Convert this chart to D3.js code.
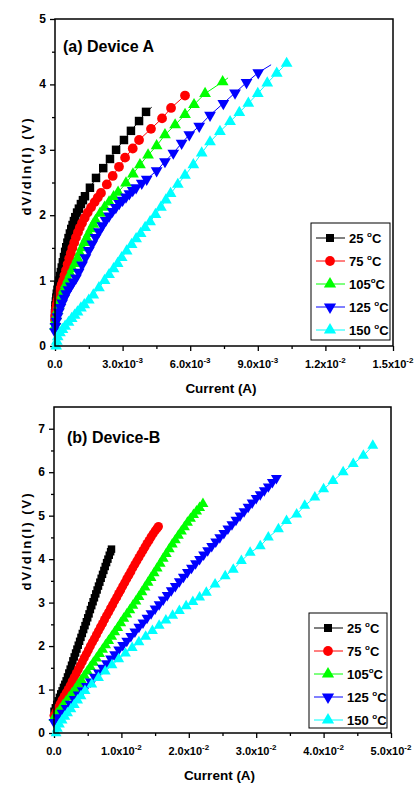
<!DOCTYPE html>
<html>
<head>
<meta charset="utf-8">
<script src="https://cdn.jsdelivr.net/npm/d3@7/dist/d3.min.js"></script>
<style>
body { margin: 0; background: #fff; }
text { font-family: "Liberation Sans", Arial, sans-serif; font-weight: bold; fill: #000; }
</style>
</head>
<body>
<svg width="416" height="787"></svg>
<script>
var svg = d3.select('svg');

// current in mA, dV/dln(I) in V
var tempLabels = ['25 ', '75 ', '105', '125 ', '150 '];
var colors = ['#000000', '#ff0000', '#00ff00', '#0000ff', '#00ffff'];
var symbols = [d3.symbolSquare, d3.symbolCircle, d3.symbolTriangle, 'down', d3.symbolTriangle];

// (a) Device A
var a25 = [[0,0.5],[0.01,0.56],[0.02,0.62],[0.04,0.68],[0.06,0.74],[0.08,0.8],[0.11,0.86],[0.14,0.93],[0.18,1.0],[0.22,1.07],[0.26,1.13],[0.3,1.2],[0.35,1.28],[0.4,1.36],[0.45,1.44],[0.5,1.51],[0.55,1.58],[0.6,1.65],[0.66,1.72],[0.72,1.79],[0.78,1.85],[0.84,1.91],[0.9,1.97],[0.98,2.04],[1.06,2.1],[1.15,2.17],[1.24,2.23],[1.33,2.29],[1.55,2.42],[1.82,2.57],[2.14,2.72],[2.44,2.86],[2.71,3.0],[3.06,3.15],[3.37,3.29],[3.73,3.44],[4.04,3.58]];
var a75 = [[0,0.4],[0.01,0.46],[0.03,0.52],[0.05,0.58],[0.08,0.64],[0.11,0.7],[0.15,0.76],[0.19,0.82],[0.24,0.88],[0.3,0.94],[0.36,1.0],[0.42,1.08],[0.49,1.16],[0.56,1.25],[0.63,1.34],[0.7,1.42],[0.77,1.5],[0.85,1.58],[0.93,1.66],[1.02,1.74],[1.1,1.81],[1.2,1.88],[1.32,1.96],[1.45,2.04],[1.6,2.12],[1.76,2.2],[1.9,2.27],[2.04,2.34],[2.3,2.47],[2.56,2.6],[2.84,2.74],[3.11,2.88],[3.45,3.02],[3.73,3.15],[4.26,3.32],[4.75,3.48],[5.15,3.64],[5.77,3.83]];
var a105 = [[0,0.3],[0.02,0.38],[0.06,0.46],[0.11,0.54],[0.17,0.62],[0.24,0.7],[0.31,0.78],[0.39,0.86],[0.48,0.94],[0.58,1.02],[0.68,1.1],[0.78,1.18],[0.89,1.26],[1.0,1.34],[1.1,1.42],[1.2,1.5],[1.3,1.58],[1.4,1.65],[1.5,1.72],[1.6,1.79],[1.7,1.86],[1.8,1.92],[2.0,2.03],[2.2,2.12],[2.4,2.2],[2.6,2.28],[2.8,2.35],[3.15,2.49],[3.46,2.63],[3.77,2.77],[4.13,2.92],[4.51,3.06],[4.88,3.23],[5.33,3.38],[5.77,3.54],[6.17,3.69],[6.66,3.86],[7.44,4.04]];
var a125 = [[0,0.22],[0.02,0.3],[0.06,0.38],[0.11,0.45],[0.17,0.52],[0.24,0.59],[0.32,0.66],[0.41,0.73],[0.5,0.8],[0.6,0.86],[0.7,0.92],[0.81,0.98],[0.93,1.04],[1.05,1.13],[1.2,1.24],[1.35,1.35],[1.5,1.46],[1.65,1.56],[1.8,1.66],[1.95,1.75],[2.1,1.84],[2.25,1.92],[2.4,1.99],[2.55,2.06],[2.7,2.12],[2.85,2.18],[3.0,2.23],[3.15,2.28],[3.3,2.33],[3.45,2.38],[3.6,2.42],[3.85,2.49],[4.07,2.55],[4.51,2.68],[4.88,2.82],[5.25,2.95],[5.62,3.1],[5.96,3.23],[6.4,3.36],[6.88,3.53],[7.47,3.71],[7.99,3.87],[8.5,4.03],[9.02,4.18]];
var a150 = [[0.05,0.0],[0.08,0.07],[0.12,0.14],[0.22,0.2],[0.33,0.25],[0.45,0.3],[0.6,0.36],[0.74,0.42],[0.87,0.47],[1.0,0.52],[1.15,0.58],[1.3,0.63],[1.5,0.7],[1.7,0.78],[1.95,0.89],[2.2,1.0],[2.4,1.09],[2.6,1.18],[2.78,1.26],[2.96,1.35],[3.18,1.45],[3.4,1.55],[3.6,1.64],[3.8,1.72],[4.0,1.81],[4.22,1.9],[4.46,2.01],[4.7,2.12],[4.92,2.23],[5.13,2.33],[5.45,2.47],[5.77,2.61],[6.14,2.77],[6.51,2.95],[6.88,3.12],[7.32,3.28],[7.77,3.43],[8.18,3.57],[8.58,3.71],[9.0,3.86],[9.42,4.02],[9.84,4.17],[10.28,4.32]];
// line keeps going a little past the last marker
var aTails = [[4.29,3.65], null, [7.68,4.1], [9.59,4.3], null];
var aXTicks = [0, 3, 6, 9, 12, 15];
var aXMant = ['0.0', '3.0x10', '6.0x10', '9.0x10', '1.2x10', '1.5x10'];
var aXExp = ['', '-3', '-3', '-3', '-2', '-2'];
var aYTicks = [0, 1, 2, 3, 4, 5];

// (b) Device-B
var b25 = [[0,0.5],[0.2,0.58],[0.4,0.66],[0.6,0.74],[0.8,0.82],[1.0,0.9],[1.2,0.97],[1.4,1.05],[1.6,1.12],[1.8,1.2],[2.0,1.29],[2.2,1.38],[2.4,1.47],[2.6,1.56],[2.8,1.66],[3.0,1.75],[3.2,1.84],[3.4,1.93],[3.6,2.02],[3.8,2.11],[4.0,2.2],[4.2,2.29],[4.4,2.38],[4.6,2.47],[4.8,2.56],[5.0,2.65],[5.2,2.74],[5.4,2.84],[5.6,2.93],[5.8,3.02],[6.0,3.11],[6.2,3.2],[6.4,3.29],[6.6,3.38],[6.8,3.47],[7.0,3.56],[7.2,3.65],[7.4,3.74],[7.6,3.83],[7.8,3.92],[8.0,4.0],[8.2,4.09],[8.4,4.17],[8.53,4.23]];
var b75 = [[0,0.4],[0.3,0.49],[0.6,0.58],[0.9,0.67],[1.2,0.76],[1.5,0.84],[1.8,0.92],[2.1,1.0],[2.4,1.09],[2.7,1.19],[3.0,1.28],[3.3,1.37],[3.6,1.46],[3.9,1.55],[4.2,1.64],[4.5,1.73],[4.8,1.82],[5.1,1.91],[5.4,2.0],[5.7,2.09],[6.0,2.17],[6.3,2.26],[6.6,2.35],[6.9,2.44],[7.2,2.52],[7.5,2.61],[7.8,2.7],[8.1,2.78],[8.4,2.87],[8.7,2.95],[9.0,3.04],[9.3,3.12],[9.6,3.21],[9.9,3.29],[10.2,3.38],[10.5,3.46],[10.8,3.55],[11.1,3.63],[11.4,3.71],[11.7,3.8],[12.0,3.88],[12.3,3.96],[12.6,4.04],[12.9,4.12],[13.2,4.2],[13.5,4.28],[13.8,4.36],[14.1,4.43],[14.4,4.51],[14.7,4.58],[15.0,4.65],[15.3,4.71],[15.5,4.75]];
var b105 = [[0,0.35],[0.45,0.45],[0.9,0.54],[1.35,0.64],[1.8,0.73],[2.25,0.82],[2.7,0.92],[3.15,1.01],[3.6,1.12],[4.05,1.22],[4.5,1.32],[4.95,1.42],[5.4,1.52],[5.85,1.62],[6.3,1.72],[6.75,1.82],[7.2,1.92],[7.65,2.02],[8.1,2.12],[8.55,2.22],[9.0,2.32],[9.45,2.42],[9.9,2.53],[10.35,2.63],[10.8,2.73],[11.25,2.83],[11.7,2.93],[12.15,3.03],[12.6,3.13],[13.05,3.24],[13.5,3.35],[13.95,3.46],[14.4,3.57],[14.85,3.68],[15.3,3.79],[15.75,3.9],[16.2,4.01],[16.65,4.12],[17.1,4.23],[17.55,4.34],[18.0,4.44],[18.45,4.54],[18.9,4.64],[19.35,4.74],[19.8,4.84],[20.25,4.93],[20.7,5.02],[21.15,5.1],[21.6,5.18],[22.1,5.27]];
var b125 = [[0,0.25],[0.6,0.36],[1.2,0.46],[1.8,0.57],[2.4,0.67],[3.0,0.78],[3.6,0.88],[4.2,0.98],[4.8,1.08],[5.4,1.18],[6.0,1.29],[6.6,1.39],[7.2,1.5],[7.8,1.6],[8.4,1.71],[9.0,1.81],[9.6,1.92],[10.2,2.02],[10.8,2.12],[11.4,2.23],[12.0,2.33],[12.6,2.44],[13.2,2.54],[13.8,2.65],[14.4,2.75],[15.0,2.86],[15.6,2.96],[16.2,3.07],[16.8,3.17],[17.4,3.28],[18.0,3.38],[18.6,3.49],[19.2,3.59],[19.8,3.7],[20.4,3.8],[21.0,3.9],[21.6,4.0],[22.2,4.1],[22.8,4.2],[23.4,4.3],[24.0,4.4],[24.6,4.5],[25.2,4.6],[25.8,4.7],[26.4,4.8],[27.0,4.9],[27.6,5.0],[28.2,5.1],[28.8,5.2],[29.4,5.3],[30.0,5.4],[30.6,5.49],[31.2,5.58],[31.8,5.67],[32.4,5.77],[33.0,5.86]];
var b150 = [[0.3,0.0],[0.5,0.1],[0.8,0.2],[1.2,0.29],[1.6,0.38],[2.0,0.46],[2.5,0.55],[3.0,0.65],[3.5,0.75],[4.0,0.85],[4.6,0.97],[5.6,1.12],[6.6,1.27],[7.6,1.42],[8.6,1.56],[9.6,1.7],[10.6,1.83],[11.6,1.96],[12.6,2.09],[13.6,2.22],[14.6,2.35],[15.6,2.47],[16.6,2.59],[17.6,2.7],[18.6,2.81],[19.6,2.92],[20.6,3.02],[21.6,3.12],[22.6,3.23],[23.9,3.42],[25.4,3.61],[26.6,3.76],[27.8,3.96],[29.1,4.15],[30.6,4.3],[31.8,4.5],[33.3,4.69],[34.5,4.88],[36.0,5.03],[37.2,5.23],[38.7,5.42],[40.0,5.61],[41.4,5.8],[42.9,6.0],[44.4,6.19],[45.9,6.38],[47.3,6.61]];
var bTails = [null, null, null, null, null];
var bXTicks = [0, 10, 20, 30, 40, 50];
var bXMant = ['0.0', '1.0x10', '2.0x10', '3.0x10', '4.0x10', '5.0x10'];
var bXExp = ['', '-2', '-2', '-2', '-2', '-2'];
var bYTicks = [0, 1, 2, 3, 4, 5, 6, 7];

function marker(i, size) {
    if (symbols[i] === 'down') {
        return d3.symbol().type(d3.symbolTriangle).size(size)();
    }
    return d3.symbol().type(symbols[i]).size(size)();
}

function drawPanel(p) {
    var x = d3.scaleLinear().domain([0, p.xMax]).range([p.left, p.right]);
    var y = d3.scaleLinear().domain([0, p.yMax]).range([p.bottom, p.top]);
    var g = svg.append('g');

    // minor ticks
    var xMinor = [];
    for (var i = 0; i < p.xTicks.length - 1; i++) xMinor.push((p.xTicks[i] + p.xTicks[i + 1]) / 2);
    var yMinor = [];
    for (i = 0; i < p.yMax * 2; i++) if (i % 2 == 1) yMinor.push(i / 2);

    g.append('g').attr('transform', 'translate(0,' + p.bottom + ')')
        .call(d3.axisBottom(x).tickValues(p.xTicks).tickSize(5).tickSizeOuter(0).tickFormat(''));
    g.append('g').attr('transform', 'translate(0,' + p.bottom + ')')
        .call(d3.axisBottom(x).tickValues(xMinor).tickSize(3).tickSizeOuter(0).tickFormat(''));
    g.append('g').attr('transform', 'translate(' + p.left + ',0)')
        .call(d3.axisLeft(y).tickValues(p.yTicks).tickSize(5).tickSizeOuter(0).tickFormat(''));
    g.append('g').attr('transform', 'translate(' + p.left + ',0)')
        .call(d3.axisLeft(y).tickValues(yMinor).tickSize(3).tickSizeOuter(0).tickFormat(''));
    g.selectAll('.tick line').attr('stroke', '#000').attr('stroke-width', 1.3);
    g.selectAll('.domain').remove();

    // x labels with superscript exponent
    p.xTicks.forEach(function(v, i) {
        var t = g.append('text')
            .attr('x', x(v))
            .attr('y', p.bottom + 22)
            .attr('text-anchor', 'middle')
            .attr('font-size', '11px');
        t.append('tspan').text(p.xMant[i]);
        if (p.xExp[i]) {
            t.append('tspan').attr('dy', -5).attr('font-size', '8px').text(p.xExp[i]);
        }
    });

    g.selectAll('.ylab')
        .data(p.yTicks)
        .enter()
        .append('text')
        .attr('x', p.left - 9)
        .attr('y', function(d) { return y(d) + 4; })
        .attr('text-anchor', 'end')
        .attr('font-size', '12px')
        .text(function(d) { return d; });

    g.append('text')
        .attr('x', (p.left + p.right) / 2 - 3)
        .attr('y', p.bottom + 47)
        .attr('text-anchor', 'middle')
        .attr('font-size', '13.5px')
        .text('Current (A)');

    g.append('text')
        .attr('transform', 'translate(31,' + p.yTitle + ') rotate(-90)')
        .attr('text-anchor', 'middle')
        .attr('font-size', '13px')
        .attr('letter-spacing', '2px')
        .text('dV/dln(I) (V)');

    g.append('text')
        .attr('x', p.left + p.titleDx)
        .attr('y', p.top + p.titleDy)
        .attr('font-size', '16px')
        .text(p.title);

    var line = d3.line()
        .x(function(d) { return x(d[0]); })
        .y(function(d) { return y(d[1]); });

    p.series.forEach(function(s, i) {
        var pts = s.slice();
        if (p.tails[i]) pts.push(p.tails[i]);
        g.append('path')
            .attr('d', line(pts))
            .attr('fill', 'none')
            .attr('stroke', colors[i])
            .attr('stroke-width', 1);
        g.selectAll('.m' + i)
            .data(s)
            .enter()
            .append('path')
            .attr('d', marker(i, i == 0 ? p.sqSize : (i == 1 ? p.circSize : p.triSize)))
            .attr('transform', function(d) {
                return 'translate(' + x(d[0]) + ',' + y(d[1]) + ')' + (symbols[i] === 'down' ? ' rotate(180)' : '');
            })
            .attr('fill', colors[i]);
    });

    // frame
    g.append('rect')
        .attr('x', p.left).attr('y', p.top)
        .attr('width', p.right - p.left).attr('height', p.bottom - p.top)
        .attr('fill', 'none').attr('stroke', '#000').attr('stroke-width', 1.5);

    // legend
    var lg = g.append('g');
    lg.append('rect')
        .attr('x', p.legX).attr('y', p.legY)
        .attr('width', p.legW).attr('height', p.legH)
        .attr('fill', '#fff').attr('stroke', '#000').attr('stroke-width', 1);
    tempLabels.forEach(function(lab, i) {
        var ly = p.legY + 15 + i * p.legStep;
        var mx = p.legX + 19;
        lg.append('line')
            .attr('x1', mx - 14).attr('x2', mx + 15)
            .attr('y1', ly).attr('y2', ly)
            .attr('stroke', colors[i]).attr('stroke-width', 1);
        lg.append('path')
            .attr('d', marker(i, i == 0 ? 64 : (i == 1 ? 75 : 65)))
            .attr('transform', 'translate(' + mx + ',' + ly + ')' + (symbols[i] === 'down' ? ' rotate(180)' : ''))
            .attr('fill', colors[i]);
        var t = lg.append('text')
            .attr('x', mx + 19)
            .attr('y', ly + 5)
            .attr('font-size', '13px');
        t.append('tspan').text(lab);
        t.append('tspan').attr('dy', -6).attr('font-size', '8px').text('o');
        t.append('tspan').attr('dy', 6).text('C');
    });
}

drawPanel({
    top: 19, bottom: 346, left: 55, right: 393,
    xMax: 15, yMax: 5,
    xTicks: aXTicks, xMant: aXMant, xExp: aXExp, yTicks: aYTicks,
    series: [a25, a75, a105, a125, a150], tails: aTails,
    sqSize: 72, circSize: 75, triSize: 60,
    title: '(a) Device A', titleDx: 8, titleDy: 33, yTitle: 166,
    legX: 311, legY: 223, legW: 79, legH: 117, legStep: 23
});

drawPanel({
    top: 407, bottom: 733, left: 54, right: 391,
    xMax: 50, yMax: 7.5,
    xTicks: bXTicks, xMant: bXMant, xExp: bXExp, yTicks: bYTicks,
    series: [b25, b75, b105, b125, b150], tails: bTails,
    sqSize: 56, circSize: 64, triSize: 52,
    title: '(b) Device-B', titleDx: 13, titleDy: 36, yTitle: 541,
    legX: 309, legY: 613, legW: 78, legH: 115, legStep: 23
});
</script>
</body>
</html>
